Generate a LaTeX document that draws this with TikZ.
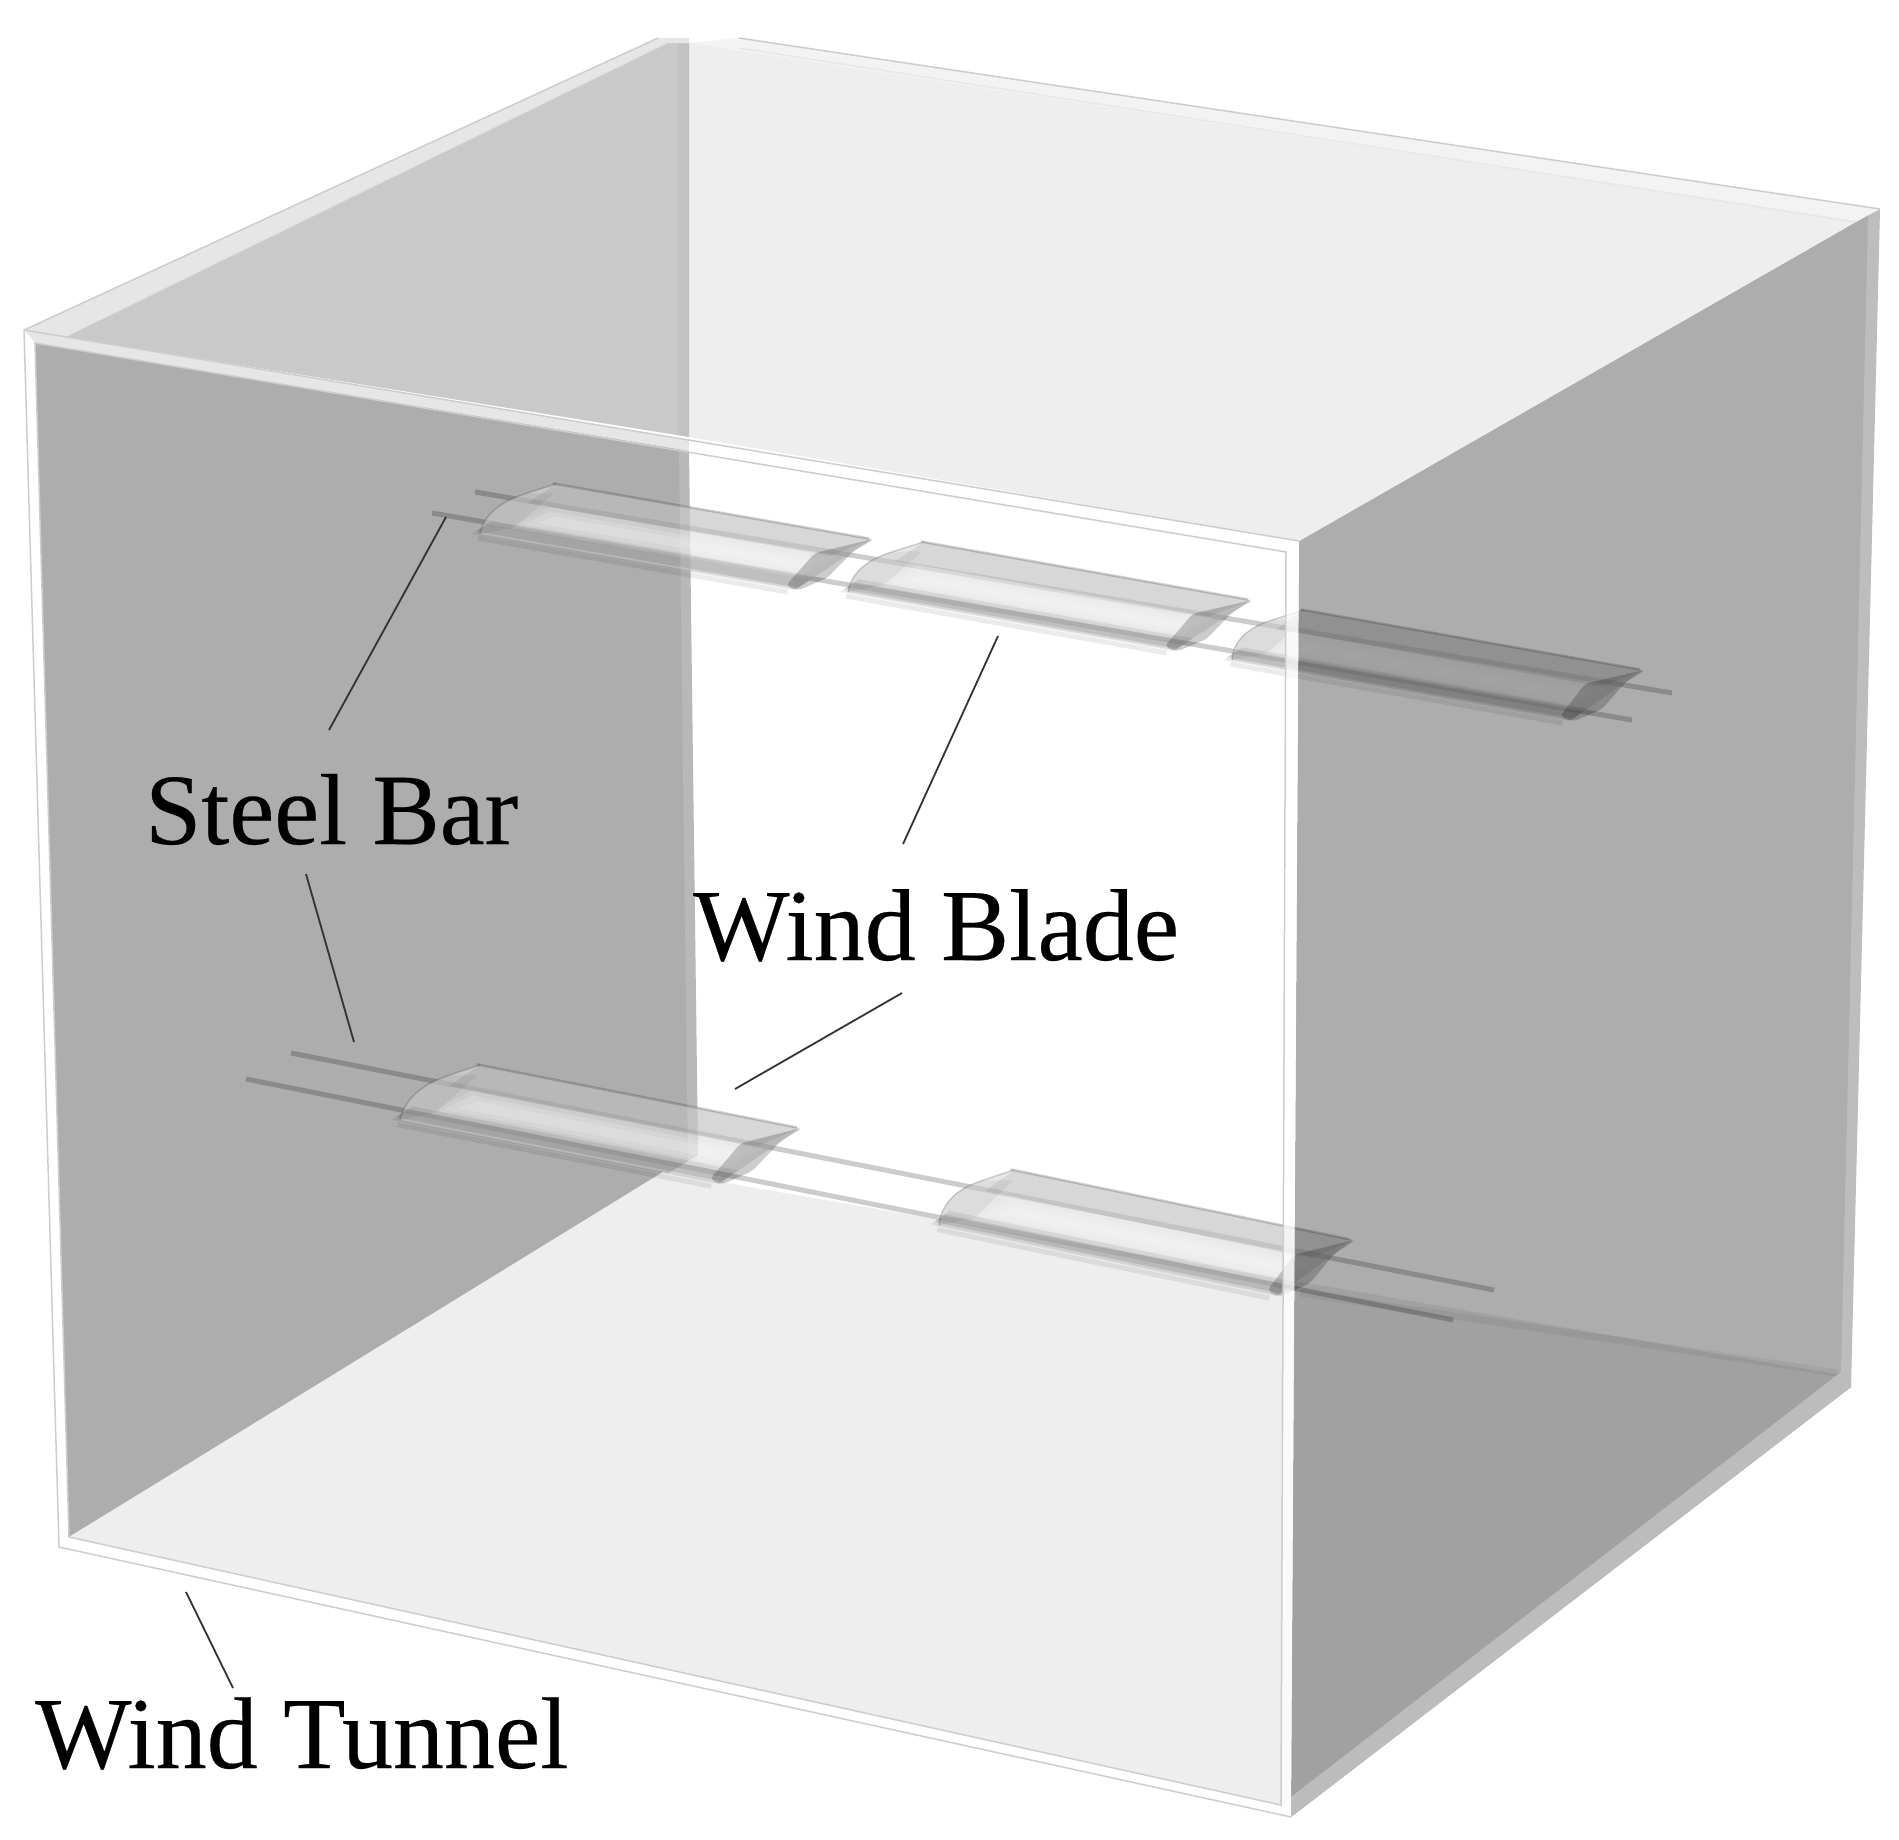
\documentclass[tikz,border=0pt]{standalone}
\usepackage{fontspec}
\setmainfont{Liberation Serif}
\newfontfamily\labelfont{Liberation Serif}[FakeBold=0.25]
\definecolor{wallgray}{HTML}{ADADAD}
\definecolor{floorgray}{HTML}{EEEEEE}
\definecolor{ceildark}{HTML}{C9C9C9}
\definecolor{ceilstrip}{HTML}{C2C2C2}
\definecolor{bandgray}{HTML}{E6E6E6}
\definecolor{edgeband}{HTML}{BCBCBC}
\definecolor{frameline}{HTML}{CDCDCD}
\definecolor{bladebase}{HTML}{D9D9D9}
\definecolor{leader}{HTML}{333333}
\tikzset{
  framestroke/.style={draw=frameline,line width=1.5pt},
  steelbar/.style={draw=black,draw opacity=.2,line width=5pt},
  labeltext/.style={inner sep=0pt,anchor=base west,text=black},
  leaderline/.style={draw=leader,line width=1.8pt},
  glass/.style={fill=black,fill opacity=.32},
}
\newcommand{\wingblade}[6]{%
  \begin{scope}[shift={(#1,#2)},x={(#3pt,-#4pt)},y={(#5pt,#6pt)}]
    % body
    \fill[bladebase,fill opacity=.6]
      (0,0) .. controls (-.06,.3) and (-.075,.55) .. (-.04,.76)
      .. controls (-.025,.85) and (-.01,.95) .. (0,1) -- (1,1) -- (1,0) -- cycle;
    % shade on the upper part
    \fill[black,fill opacity=.07] (0,.62) -- (.96,.62) -- (1,1) -- (0,1) -- cycle;
    % highlight, stacked for a soft edge
    \fill[white,fill opacity=.12] (.05,.2) -- (.96,.2) -- (.98,.62) -- (.07,.62) -- cycle;
    \fill[white,fill opacity=.16] (.07,.27) -- (.95,.27) -- (.97,.55) -- (.09,.55) -- cycle;
    \fill[white,fill opacity=.18] (.1,.33) -- (.93,.33) -- (.95,.48) -- (.12,.48) -- cycle;
    % dark band along the lower edge
    \fill[black,fill opacity=.08] (-.02,-.02) -- (1,-.02) -- (1,.23) -- (-.02,.23) -- cycle;
    \fill[black,fill opacity=.10] (-.02,.03) -- (1,.03) -- (1,.17) -- (-.02,.17) -- cycle;
    % darker nose
    \fill[black,fill opacity=.05]
      (0,0) .. controls (-.06,.3) and (-.075,.55) .. (-.04,.76)
      -- (.03,.85) -- (.06,.2) -- cycle;
    % edges
    \draw[black,draw opacity=.18,line width=2.5pt] (-.01,1) -- (.99,1);
    \draw[black,draw opacity=.08,line width=5pt] (.01,-.07) -- (.99,-.07);
    \draw[black,draw opacity=.16,line width=1.5pt]
      (0,0) .. controls (-.06,.3) and (-.075,.55) .. (-.04,.76) .. controls (-.025,.85) and (-.01,.95) .. (0,1);
    % end section of the aerofoil
    \fill[black,fill opacity=.2,rounded corners=5pt]
      (1.005,1.01) -- (.91,.62) -- (.95,.166) -- (.96,.03) -- (1.01,-.02) -- (1.036,.26) -- (1.0,.75) -- cycle;
  \end{scope}%
}
\begin{document}
\begin{tikzpicture}[x=1pt,y=-1pt]
\useasboundingbox (0,0) rectangle (1899,1840);
\fill[white] (0,0) rectangle (1899,1840);

% interior surfaces
\fill[wallgray] (35,343) -- (689,450) -- (698,1155) -- (69,1537) -- cycle;
\fill[floorgray] (69,1537) -- (663,1172) -- (1840,1375) -- (1293,1797) -- (1281,1805) -- cycle;

% steel bars
\draw[steelbar] (475,492) -- (1672,693);
\draw[steelbar] (432,513) -- (1632,720);
\draw[steelbar] (291,1053) -- (1494,1290);
\draw[steelbar] (246,1079) -- (1453,1320);

% wind blades
\wingblade{480}{534}{316}{55}{76}{50}
\wingblade{848}{592}{327}{58}{76}{50}
\wingblade{1232}{660}{339}{60}{72}{50}
\wingblade{400}{1120}{320}{63}{80}{55}
\wingblade{939}{1225}{339}{70}{75}{55}

% lighter strip at the edge of the left wall
\fill[white,fill opacity=.14] (679,448) -- (689,450) -- (698,1155) -- (688,1161) -- cycle;

% right wall (transparent, in front of the blades and the floor)
\fill[glass] (1299,541) -- (1868,215) -- (1880,209) -- (1851,1387) -- (1291,1817) -- cycle;
\draw[black,draw opacity=.05,line width=7pt] (1300,1293) -- (1838,1373);
\fill[white,fill opacity=.2] (1868,215) -- (1880,209) -- (1851,1387) -- (1841,1372) -- cycle;
\fill[edgeband] (1291,1817) -- (1851,1387) -- (1841,1372) -- (1291,1797) -- cycle;

% ceiling
\fill[floorgray] (689,43) -- (739,38) -- (1880,209) -- (1868,215) -- (1299,541) -- (689,437) -- cycle;
\fill[white,fill opacity=.35] (689,43) -- (739,38) -- (1880,209) -- (1856,222) -- cycle;
\fill[ceildark] (66,337) -- (668,43) -- (678,43) -- (689,437) -- cycle;
\fill[ceilstrip] (678,43) -- (689,43) -- (689,437) -- (678,435) -- cycle;
\fill[bandgray] (24,330) -- (658,38) -- (689,38) -- (689,43) -- (668,43) -- (66,337) -- cycle;

% front frame
\fill[bandgray] (24,330) -- (689,440) -- (689,451) -- (35,343) -- cycle;
\fill[white] (689,440) -- (1299,541) -- (1286,552) -- (689,451) -- cycle;
\fill[white,fill opacity=.72] (1299,541) -- (1291,1817) -- (1281,1805) -- (1286,552) -- cycle;
\fill[white] (24,330) -- (35,343) -- (69,1537) -- (59,1547) -- cycle;
\fill[white] (59,1547) -- (69,1537) -- (1281,1805) -- (1291,1817) -- cycle;

% frame outlines
\draw[framestroke] (658,38) -- (24,330) -- (59,1547) -- (1291,1817);
\draw[framestroke] (739,38) -- (1880,209);
\draw[framestroke] (24,330) -- (1299,541);
\draw[framestroke] (35,343) -- (1286,552) -- (1281,1805) -- (69,1537) -- cycle;
\draw[framestroke,draw opacity=.4] (66,337) -- (668,43);
\draw[framestroke,draw opacity=.3] (739,48) -- (1856,222);

% labels
\node[labeltext,font=\labelfont\fontsize{101}{120}\selectfont] (steel) at (145,844) {Steel Bar};
\node[labeltext,font=\labelfont\fontsize{102}{120}\selectfont] (blade) at (693,960) {Wind Blade};
\node[labeltext,font=\labelfont\fontsize{102}{120}\selectfont] (tunnel) at (35,1768) {Wind Tunnel};

% leader ends
\coordinate (steelUpFrom) at (329,730);
\coordinate (steelUpTo) at (446,517);
\coordinate (steelDownFrom) at (306,874);
\coordinate (steelDownTo) at (354,1042);
\coordinate (bladeUpFrom) at (903,844);
\coordinate (bladeUpTo) at (998,636);
\coordinate (bladeDownFrom) at (902,993);
\coordinate (bladeDownTo) at (735,1089);
\coordinate (tunnelFrom) at (233,1688);
\coordinate (tunnelTo) at (186,1592);

\draw[leaderline] (steelUpFrom) -- (steelUpTo);
\draw[leaderline] (steelDownFrom) -- (steelDownTo);
\draw[leaderline] (bladeUpFrom) -- (bladeUpTo);
\draw[leaderline] (bladeDownFrom) -- (bladeDownTo);
\draw[leaderline] (tunnelFrom) -- (tunnelTo);
\end{tikzpicture}
\end{document}
